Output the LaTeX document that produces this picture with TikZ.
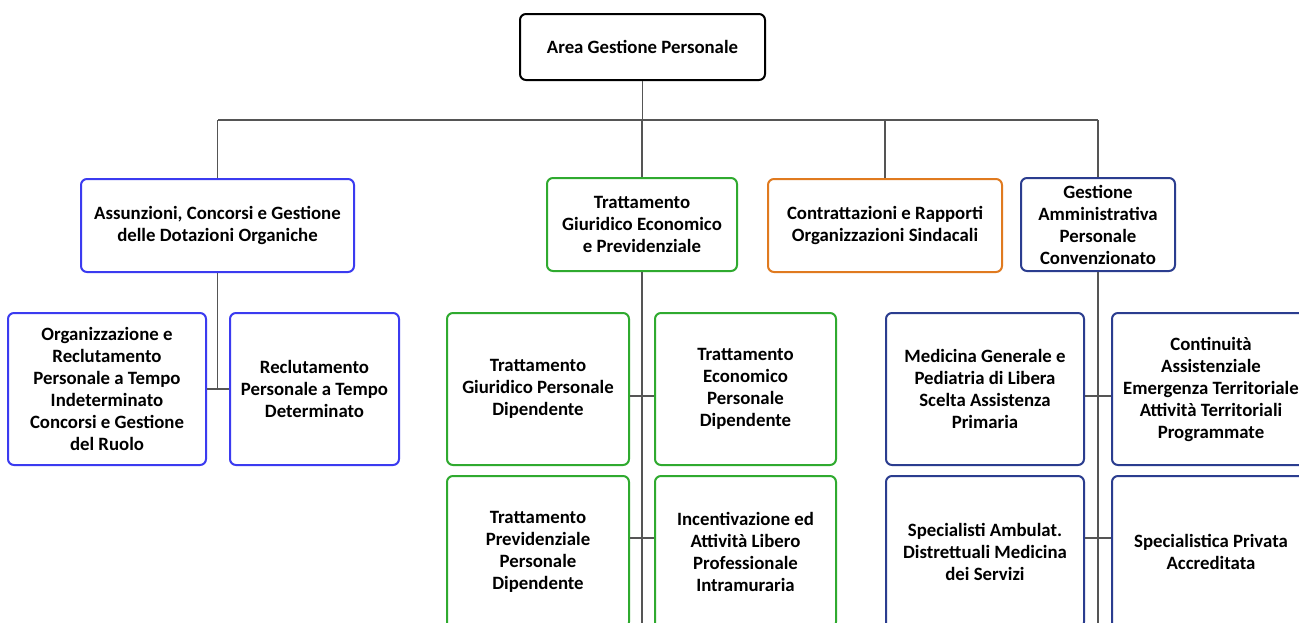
\documentclass[tikz,border=0pt]{standalone}
\usepackage{fontspec}
\setmainfont{Carlito}
\usepackage{tikz}
\usetikzlibrary{positioning}

\definecolor{boxblue}{HTML}{3B3BF0}
\definecolor{boxgreen}{HTML}{2FAA2F}
\definecolor{boxorange}{HTML}{E07A1F}
\definecolor{boxnavy}{HTML}{2B3D8F}
\definecolor{linkgray}{HTML}{555555}

\tikzset{
  unit/.style={draw, line width=2pt, rounded corners=6pt, fill=white, align=center,
    inner sep=2pt, font=\fontsize{18.8}{22}\selectfont\bfseries},
  ublue/.style={unit, draw=boxblue},
  ugreen/.style={unit, draw=boxgreen},
  uorange/.style={unit, draw=boxorange},
  unavy/.style={unit, draw=boxnavy},
  link/.style={draw=linkgray, line width=1.3pt}
}

\begin{document}
\begin{tikzpicture}[y=-1pt,x=1pt]
	\clip (0,0) rectangle (1299,622);
	\fill[white] (0,0) rectangle (1299,622);

	\node[unit, minimum width=245, minimum height=66] (area) at (642.5,47) {Area Gestione Personale};

	\node[ublue, minimum width=273, minimum height=93] (assunz) at (217.5,225.5) {Assunzioni, Concorsi e Gestione\\delle Dotazioni Organiche};
	\node[ugreen, minimum width=190, minimum height=93] (tratt) at (642,224.5) {Trattamento\\Giuridico Economico\\e Previdenziale};
	\node[uorange, minimum width=234, minimum height=93] (contr) at (885,225.5) {Contrattazioni e Rapporti\\Organizzazioni Sindacali};
	\node[unavy, minimum width=154, minimum height=93] (gest) at (1098,224.5) {Gestione\\Amministrativa\\Personale\\Convenzionato};

	\node[ublue, minimum width=198, minimum height=152] (orgrecl) at (107,389) {Organizzazione e\\Reclutamento\\Personale a Tempo\\Indeterminato\\Concorsi e Gestione\\del Ruolo};
	\node[ublue, minimum width=169, minimum height=152] (recldet) at (314.5,389) {Reclutamento\\Personale a Tempo\\Determinato};

	\node[ugreen, minimum width=182, minimum height=152] (giurdip) at (538,389) {Trattamento\\Giuridico Personale\\Dipendente};
	\node[ugreen, minimum width=181, minimum height=152] (econdip) at (745.5,389) {Trattamento\\Economico\\Personale\\Dipendente};
	\node[ugreen, minimum width=182, minimum height=152] (prevdip) at (538,552) {Trattamento\\Previdenziale\\Personale\\Dipendente};
	\node[ugreen, minimum width=181, minimum height=152] (incent) at (745.5,552) {Incentivazione ed\\Attivit\`a Libero\\Professionale\\Intramuraria};

	\node[unavy, minimum width=198, minimum height=152] (medgen) at (985,389) {Medicina Generale e\\Pediatria di Libera\\Scelta Assistenza\\Primaria};
	\node[unavy, minimum width=198, minimum height=152] (contass) at (1211,389) {Continuit\`a\\Assistenziale\\Emergenza Territoriale\\Attivit\`a Territoriali\\Programmate};
	\node[unavy, minimum width=198, minimum height=152] (specamb) at (985,552) {Specialisti Ambulat.\\Distrettuali Medicina\\dei Servizi};
	\node[unavy, minimum width=198, minimum height=152] (specpriv) at (1211,552) {Specialistica Privata\\Accreditata};

	\coordinate (busL) at (218,120);
	\coordinate (busR) at (1098,120);
	\coordinate (bottom) at (0,640);

	\draw[link] (area.south) -- (area.south |- busL);
	\draw[link] (busL) -- (busR);
	\draw[link] (assunz.north) -- (assunz.north |- busL);
	\draw[link] (tratt.north) -- (tratt.north |- busL);
	\draw[link] (contr.north) -- (contr.north |- busL);
	\draw[link] (gest.north) -- (busR);

	\draw[link] (assunz.south) -- (assunz.south |- orgrecl.east);
	\draw[link] (orgrecl.east) -- (recldet.west);

	\draw[link] (tratt.south) -- (tratt.south |- bottom);
	\draw[link] ([yshift=-7pt]giurdip.east) -- ([yshift=-7pt]econdip.west);
	\draw[link] ([yshift=14pt]prevdip.east) -- ([yshift=14pt]incent.west);

	\draw[link] (gest.south) -- (gest.south |- bottom);
	\draw[link] ([yshift=-7pt]medgen.east) -- ([yshift=-7pt]contass.west);
	\draw[link] ([yshift=14pt]specamb.east) -- ([yshift=14pt]specpriv.west);
\end{tikzpicture}
\end{document}
